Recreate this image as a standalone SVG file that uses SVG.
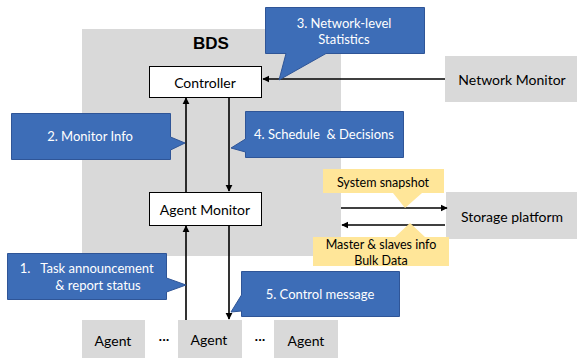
<svg xmlns="http://www.w3.org/2000/svg" width="577" height="358" viewBox="0 0 577 358">
<style>
text{font-family:Lato,"Open Sans","Liberation Sans",sans-serif;text-anchor:middle;dominant-baseline:central;white-space:pre}
.gray{fill:#D9D9D9}
.box{fill:#fff;stroke:#000;stroke-width:1}
.blue{fill:#3D6DB7;stroke:#2F5597;stroke-width:1}
.yel{fill:#FFE699}
.lbl{font-size:14px;fill:#000}
.wt{font-size:13px;fill:#fff}
.yt{font-size:12.5px;fill:#000}
.ln{stroke:#000;stroke-width:1.6;fill:none}
</style>
<defs>
<marker id="ah" viewBox="0 0 10 10" refX="9" refY="5" markerWidth="4.5" markerHeight="4.5" orient="auto"><path d="M0,0L10,5L0,10z" fill="#000"/></marker>
</defs>
<g id="bds"><rect class="gray" x="82" y="29" width="259" height="227"/><text x="211" y="43" style="font-family:'Liberation Sans',Arial,sans-serif;font-weight:bold;font-size:17px">BDS</text></g>
<g id="network-monitor"><rect class="gray" x="445" y="56" width="132" height="46"/><text class="lbl" x="512" y="79">Network Monitor</text></g>
<g id="storage"><rect class="gray" x="446" y="192" width="131" height="47"/><text class="lbl" x="512" y="216">Storage platform</text></g>
<g id="agent1"><rect class="gray" x="82" y="320" width="63" height="38"/><text class="lbl" x="113" y="340">Agent</text></g>
<g id="agent2"><rect class="gray" x="178" y="320" width="64" height="38"/><text class="lbl" x="209" y="339">Agent</text></g>
<g id="agent3"><rect class="gray" x="274" y="320" width="64" height="38"/><text class="lbl" x="306" y="340">Agent</text></g>
<g id="dots"><text class="lbl" x="164" y="338">···</text><text class="lbl" x="260" y="338">···</text></g>
<g id="controller"><rect class="box" x="149.5" y="66.5" width="112" height="31"/><text class="lbl" x="205" y="82">Controller</text></g>
<g id="agent-monitor"><rect class="box" x="149.5" y="192.5" width="112" height="33"/><text class="lbl" x="205" y="209">Agent Monitor</text></g>
<g id="connectors">
<line class="ln" x1="186" y1="192" x2="186" y2="98" marker-end="url(#ah)"/>
<line class="ln" x1="229" y1="97" x2="229" y2="191" marker-end="url(#ah)"/>
<line class="ln" x1="186" y1="320" x2="186" y2="226" marker-end="url(#ah)"/>
<line class="ln" x1="229" y1="226" x2="229" y2="319" marker-end="url(#ah)"/>
<line class="ln" x1="445" y1="79" x2="263" y2="79" marker-end="url(#ah)"/>
<line class="ln" x1="341" y1="208" x2="447" y2="208" marker-end="url(#ah)"/>
<line class="ln" x1="445" y1="225" x2="342" y2="225" marker-end="url(#ah)"/>
</g>
<g id="callout3"><path class="blue" d="M265.5,7.5H424.5V53.5H326L279,80L286,53.5H265.5Z"/><text class="wt" x="344" y="23">3. Network-level</text><text class="wt" x="344" y="39">Statistics</text></g>
<g id="callout2"><path class="blue" d="M11.5,113.5H170.5V137L185,143L170.5,150V159.5H11.5Z"/><text class="wt" x="90" y="136">2. Monitor Info</text></g>
<g id="callout4"><path class="blue" d="M245.5,111.5H403.5V157.5H245.5V152L231,148L245.5,139Z"/><text class="wt" x="324" y="134">4. Schedule  &amp; Decisions</text></g>
<g id="callout1"><path class="blue" d="M7.5,253.5H166.5V278L186,285L166.5,292V299.5H7.5Z"/><text class="wt" x="25" y="268">1.</text><text class="wt" x="97" y="268">Task announcement</text><text class="wt" x="98" y="285">&amp; report status</text></g>
<g id="callout5"><path class="blue" d="M241.5,271.5H399.5V316.5H241.5V311L231,312L241.5,295Z"/><text class="wt" x="320" y="294">5. Control message</text></g>
<g id="note-snapshot"><path class="yel" d="M323,169H444V193H422L405,208L393,193H323Z"/><text class="yt" x="383" y="182">System snapshot</text></g>
<g id="note-master"><path class="yel" d="M313,237H395L410,223L425,237H449V266H313Z"/><text class="yt" x="381" y="244">Master &amp; slaves info</text><text class="yt" x="381" y="260">Bulk Data</text></g>
</svg>
